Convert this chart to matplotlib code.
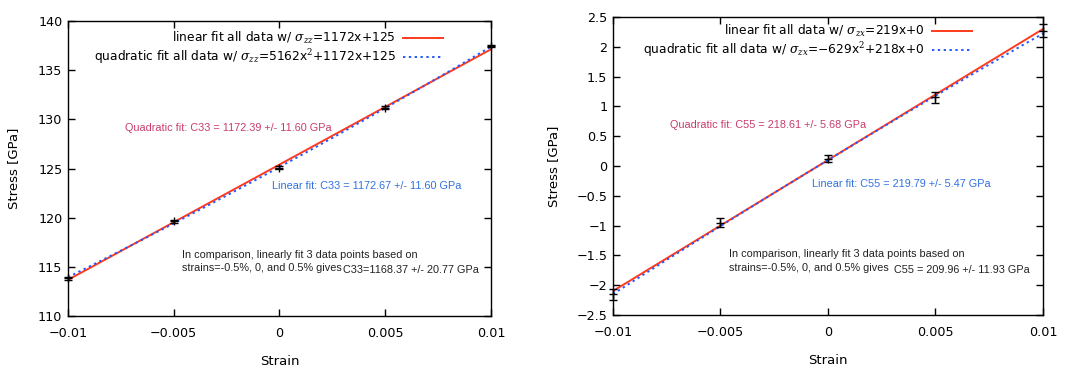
import matplotlib
matplotlib.use("Agg")
import matplotlib.pyplot as plt
import numpy as np

# data
strain = [-0.01, -0.005, 0.0, 0.005, 0.01]

# left panel: sigma_zz
stress_zz = [113.85, 119.65, 125.1, 131.2, 137.45]
err_zz = [0.15, 0.15, 0.12, 0.12, 0.12]
lin_zz = [1172.67, 125.4]
quad_zz = [5162.0, 1172.39, 125.15]

# right panel: sigma_zx
stress_zx = [-2.15, -0.95, 0.12, 1.15, 2.27]
err_zx = [0.09, 0.07, 0.06, 0.09, 0.11]
lin_zx = [219.79, 0.1]
quad_zx = [-629.0, 218.61, 0.1]

xticks = [-0.01, -0.005, 0, 0.005, 0.01]
xticklabels = ["\u22120.01", "\u22120.005", "0", "0.005", "0.01"]

RED = "#ff3a1e"
BLUE = "#2458ff"
PINK = "#c83c6c"
LBLUE = "#2f72e0"
ANN_FONT = ["Liberation Sans", "DejaVu Sans"]

plt.rcParams["font.family"] = ["DejaVu Sans"]
plt.rcParams["mathtext.fontset"] = "dejavuserif"

fig = plt.figure(figsize=(10.72, 3.68), dpi=100)
ax1 = fig.add_axes([0.0634, 0.1413, 0.3946, 0.8016])
ax2 = fig.add_axes([0.5718, 0.144, 0.4011, 0.8098])


def panel(ax, y, yerr, lin, quad, lab_lin, lab_quad, ylim, yticks, yticklabels, bbox, ylpad):
    xx = np.linspace(-0.01, 0.01, 200)
    ax.plot(xx, np.polyval(lin, xx), color=RED, lw=1.4, label=lab_lin, zorder=2)
    ax.plot(xx, np.polyval(quad, xx), color=BLUE, lw=1.4, ls=(0, (1.2, 1.8)),
            label=lab_quad, zorder=3)
    ax.errorbar(strain, y, yerr=yerr, fmt="+", color="black", ms=6, mew=1.0,
                elinewidth=1.0, capsize=3, capthick=1.0, zorder=4, clip_on=False)
    ax.set_xlim(-0.01, 0.01)
    ax.set_ylim(*ylim)
    ax.set_xticks(xticks)
    ax.set_xticklabels(xticklabels)
    ax.set_yticks(yticks)
    ax.set_yticklabels(yticklabels)
    ax.tick_params(direction="in", top=True, right=True, length=5, width=1,
                   labelsize=9.2)
    ax.tick_params(axis="x", pad=8)
    ax.tick_params(axis="y", pad=4)
    for s in ax.spines.values():
        s.set_linewidth(1.0)
    ax.set_xlabel("Strain", fontsize=9.5, labelpad=11)
    ax.set_ylabel("Stress [GPa]", fontsize=9.5, labelpad=ylpad)
    ax.legend(loc="upper right", bbox_to_anchor=bbox, frameon=False,
              markerfirst=False, fontsize=8.8, handlelength=3.3,
              handletextpad=0.6, labelspacing=0.1, borderaxespad=0, borderpad=0)


panel(ax1, stress_zz, err_zz, lin_zz, quad_zz,
      r"linear fit all data w/ $\sigma_{zz}$=1172x+125",
      r"quadratic fit all data w/ $\sigma_{zz}$=5162x$^2$+1172x+125",
      (110, 140), [110, 115, 120, 125, 130, 135, 140],
      ["110", "115", "120", "125", "130", "135", "140"], (0.887, 0.97), 13)

panel(ax2, stress_zx, err_zx, lin_zx, quad_zx,
      r"linear fit all data w/ $\sigma_{zx}$=219x+0",
      r"quadratic fit all data w/ $\sigma_{zx}$=$-$629x$^2$+218x+0",
      (-2.5, 2.5), [-2.5, -2, -1.5, -1, -0.5, 0, 0.5, 1, 1.5, 2, 2.5],
      ["\u22122.5", "\u22122", "\u22121.5", "\u22121", "\u22120.5", "0", "0.5", "1",
       "1.5", "2", "2.5"], (0.835, 0.98), 12)

# annotations, left
kw = dict(fontsize=7.8, family=ANN_FONT, va="center", ha="left")
ax1.text(-0.0073, 129.1, "Quadratic fit: C33 = 1172.39 +/- 11.60 GPa", color=PINK, **kw)
ax1.text(-0.00035, 123.2, "Linear fit: C33 = 1172.67 +/- 11.60 GPa", color=LBLUE, **kw)
ax1.text(-0.0046, 116.2, "In comparison, linearly fit 3 data points based on", color="#222222", **kw)
ax1.text(-0.0046, 114.9, "strains=-0.5%, 0, and 0.5% gives", color="#222222", **kw)
ax1.text(0.003, 114.7, "C33=1168.37 +/- 20.77 GPa", color="#222222", **kw)

# annotations, right
ax2.text(-0.00735, 0.68, "Quadratic fit: C55 = 218.61 +/- 5.68 GPa", color=PINK, **kw)
ax2.text(-0.00074, -0.30, "Linear fit: C55 = 219.79 +/- 5.47 GPa", color=LBLUE, **kw)
ax2.text(-0.0046, -1.48, "In comparison, linearly fit 3 data points based on", color="#222222", **kw)
ax2.text(-0.0046, -1.71, "strains=-0.5%, 0, and 0.5% gives", color="#222222", **kw)
ax2.text(0.00307, -1.74, "C55 = 209.96 +/- 11.93 GPa", color="#222222", **kw)

fig.savefig("out.png", dpi=100)
